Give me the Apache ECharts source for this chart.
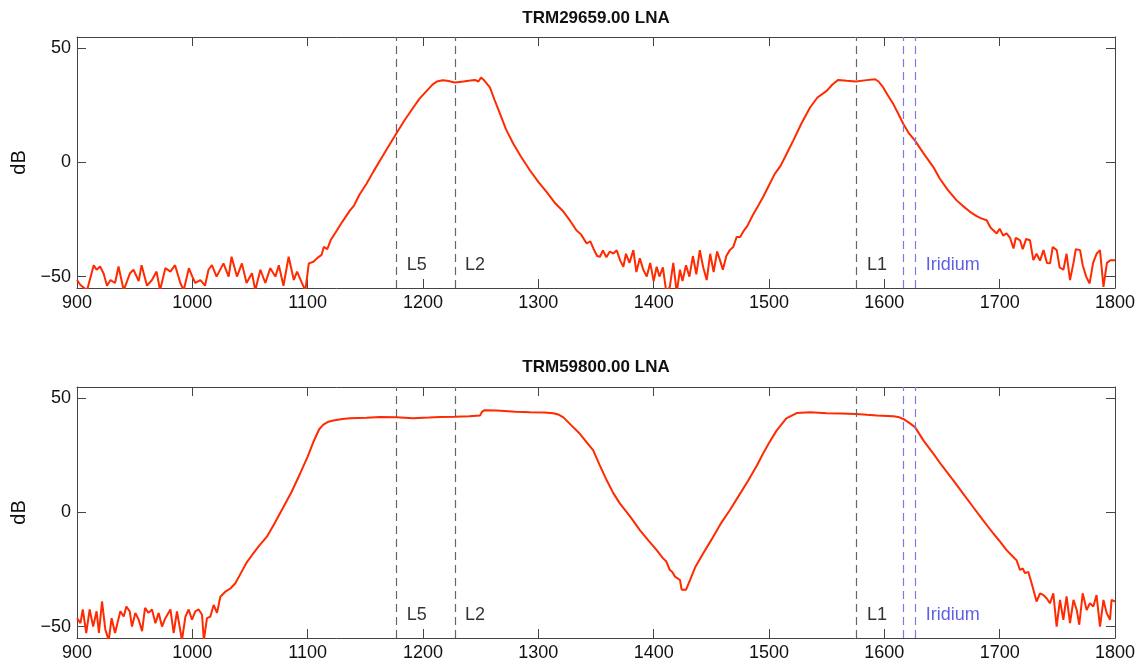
<!DOCTYPE html>
<html>
<head>
<meta charset="utf-8">
<script src="https://cdn.jsdelivr.net/npm/echarts@6/dist/echarts.min.js"></script>
<style>
  html, body { margin: 0; padding: 0; background: #fff; }
  #main { width: 1147px; height: 666px; }
</style>
</head>
<body>
<div id="main"></div>
<script>
// frequency (MHz), gain (dB)
var topTrace = [
  [900,-51.5],[903,-53.7],[908.7,-56],[914.5,-45],[917,-47],[920,-45.6],[923,-48.5],[926,-54],[929,-51.5],
  [933,-52.8],[936,-45.6],[940.5,-56],[946,-48.5],[949,-47],[953.5,-52],[956,-45],[960.7,-54],[965,-51.5],
  [969,-47.8],[972,-56],[976.6,-46.3],[981,-47.8],[985,-45],[989.6,-52.8],[992.5,-56],[997,-46.3],[1000,-50],
  [1002.6,-52.8],[1007,-51.5],[1011,-54],[1014,-47],[1017,-45],[1021,-50],[1027,-44.2],[1031.5,-50],[1034,-41.3],
  [1038.7,-50],[1043,-44.2],[1047,-52.8],[1051.7,-48.5],[1054.6,-56],[1059,-47],[1063.3,-52.8],[1067.6,-46.3],
  [1072,-50],[1075,-45],[1079,-54],[1083.5,-41.3],[1088,-51.5],[1090.8,-47.8],[1095,-52.8],[1098,-56],
  [1101,-44.2],[1105,-43.5],[1108,-42],[1112,-40.5],[1114,-37],[1117,-38],[1120,-34],[1125,-30],[1130,-26],
  [1136.7,-21],[1140,-19],[1145,-14],[1151,-9.3],[1157,-4],[1162.7,0.9],[1170,7],[1176.6,12.5],[1184,18.5],
  [1191.6,24.1],[1197,28],[1203.2,31.4],[1208,34],[1212,35.5],[1217,36],[1221,35.8],[1227.7,35.1],[1235,35.5],
  [1241,35.9],[1245,36.2],[1248,35.5],[1250.3,37.2],[1253,36],[1258,32.9],[1262,27.5],[1266.8,21.3],[1272,14.5],
  [1278.3,8.2],[1285,2.5],[1292.8,-3.5],[1300,-8.5],[1307.3,-13],[1314,-17.5],[1321.7,-21.5],[1327.5,-25.5],
  [1333,-29.7],[1337,-31.5],[1340,-34],[1342,-35.5],[1345,-34.5],[1348,-38],[1351,-41],[1353.5,-41.3],[1356,-38.5],
  [1359,-41.5],[1362,-39],[1365,-39.9],[1368,-38.5],[1371,-43],[1373.7,-45.7],[1376,-40],[1379,-44],[1382.4,-38.4],
  [1385,-48],[1388,-42],[1391,-47],[1394,-50],[1397,-44],[1400,-52],[1402.6,-45.7],[1405,-50],[1408,-46],
  [1411,-57],[1414,-54.5],[1417,-44],[1420,-57],[1422.8,-47],[1425,-52],[1428,-45],[1431,-50],[1434,-41],
  [1437,-49],[1440,-38.4],[1443,-46],[1446,-51.5],[1449,-40],[1452,-48],[1455,-39],[1457.5,-42.8],[1460,-47],
  [1463,-41],[1466,-38.4],[1469,-37],[1472,-32.6],[1475,-32.6],[1478,-30],[1481,-28],[1486,-23],[1490,-19.5],
  [1495,-15],[1500,-10],[1505,-5],[1510,-1.5],[1515,3.5],[1521,9.6],[1528,17],[1535.6,24.1],[1542,28.5],
  [1550,31.4],[1555,34.2],[1560,36.2],[1567.4,35.8],[1575.4,35.5],[1584.7,36.1],[1592,36.5],[1595,35.5],
  [1599,32.9],[1603,29.5],[1607.8,25.6],[1612,21.5],[1616.5,16.9],[1621,13],[1626.6,9.6],[1634,4],[1642.5,-2],
  [1648,-7],[1655,-12],[1662.7,-16.6],[1668,-19],[1674,-21.5],[1680,-23.5],[1684,-24.5],[1688.7,-25.3],
  [1692,-28.5],[1694.5,-29.7],[1697.4,-31.1],[1700,-29],[1703,-32],[1706,-31.1],[1709,-33],[1712,-37.7],
  [1714,-33],[1717.7,-34.1],[1720,-38],[1723,-33.5],[1726.3,-34.1],[1729.2,-42.8],[1732,-40],[1735,-43],
  [1738,-38.4],[1741,-44],[1743.7,-44.2],[1746,-37],[1749.5,-38.4],[1752,-46],[1755.3,-47],[1758,-40],
  [1761,-51.5],[1764,-44],[1766,-38],[1769.7,-38.4],[1772,-45],[1775,-50],[1778,-53],[1781,-44],[1784,-40],
  [1787,-38.4],[1790,-54.5],[1793,-44],[1796,-42.8],[1800,-42.8]
];

var bottomTrace = [
  [900,-46.3],[903,-48.5],[905,-42.5],[908,-52.8],[911,-42.5],[914,-50],[917,-43.3],[919,-52.8],[921.7,-39],
  [924.6,-51.4],[927.5,-56],[930,-46.3],[933,-52.8],[937.6,-43.3],[940.5,-45.6],[942.8,-41.2],[945.7,-43.3],
  [947.7,-50],[950.6,-44],[953.5,-47],[956.4,-52],[959,-41.8],[962,-44],[965,-42.5],[968,-48.5],[970.8,-44],
  [973.7,-50],[976.6,-46.3],[981,-42.5],[983.8,-52.8],[986.7,-43.3],[991,-56],[994,-45.6],[996.8,-42.5],
  [999.7,-47],[1002.6,-43.3],[1005.5,-42.5],[1008.4,-44.8],[1010,-56],[1012.7,-46.3],[1015.6,-45.6],
  [1018.5,-40.5],[1021.4,-44],[1024.3,-36.9],[1028.6,-34.7],[1033,-33.3],[1037.3,-31],[1041.6,-27],[1047,-22],
  [1052,-18.5],[1058,-14.5],[1064.5,-10.7],[1071,-5],[1079,2.4],[1086,9],[1093.4,17],[1100,24.5],[1105,31],
  [1110,36.5],[1113.6,38.5],[1118,39.8],[1122.3,40.3],[1130,41],[1136.7,41.3],[1151,41.5],[1162.7,41.8],
  [1177,41.7],[1191.6,41.3],[1205,41.6],[1215,41.9],[1227.7,42],[1240,42.2],[1249.4,42.5],[1251,44],[1253,44.8],
  [1264,44.7],[1280,44.2],[1292.8,43.9],[1305,43.8],[1313,43.5],[1318,42.8],[1321.7,41.7],[1328,38.5],
  [1336,34.5],[1347.6,27.2],[1353,21],[1359.3,14.1],[1365,8.5],[1370.8,3.9],[1380,-2],[1388,-7.7],[1395,-12],
  [1402.6,-16.5],[1408,-20],[1411,-21.5],[1414,-25.2],[1416,-26],[1418.5,-28.1],[1420,-28],[1422.8,-29.6],
  [1424.3,-33.9],[1428,-33.9],[1431.5,-29.6],[1436,-24],[1443,-17.9],[1450,-12],[1458,-5],[1466,1],[1474,7.5],
  [1482,14],[1489.4,20.5],[1495,26],[1500,30.5],[1506.7,36],[1515,41.2],[1524,43.6],[1535.6,43.9],[1550,43.5],
  [1562,43.4],[1575.4,43.2],[1585,42.8],[1593.4,42.5],[1607.8,42.2],[1612,41.9],[1616.5,41],[1621,39.5],
  [1626.6,37.4],[1634,31.5],[1642.5,25.8],[1650,20.5],[1659.8,14.1],[1668,8.5],[1677,2.4],[1685,-3],
  [1694.5,-9.2],[1700,-12.5],[1706,-16.5],[1711.8,-19.5],[1714.7,-21],[1717.6,-25.2],[1720,-24.5],[1722,-26.6],
  [1724.8,-26],[1727.7,-31],[1732,-39],[1735,-35.4],[1738,-36.2],[1740.7,-37.6],[1743.6,-39.8],[1746.5,-35.4],
  [1749.4,-50],[1752.3,-38.3],[1755.2,-47],[1758,-36.8],[1761,-48.5],[1764,-38.3],[1766.8,-42.7],[1769,-49.2],
  [1772,-35.4],[1775.4,-42.7],[1778.3,-39.8],[1781.2,-41.2],[1784,-36.2],[1787,-50],[1790,-38.3],[1792.8,-44.1],
  [1795.7,-47],[1797,-38.3],[1800,-39]
];

var titles = ['TRM29659.00 LNA', 'TRM59800.00 LNA'];
var gpsFreqs = [1176.45, 1227.6, 1575.42];
var iridiumFreqs = [1616, 1626.5];
var bandNames = ['L5', 'L2', 'L1', 'Iridium'];
var bandLabelFreqs = [1186, 1236.5, 1585, 1636];
var bandLabelLevel = -45;
var yTicks = [-50, 0, 50];

var FONT = '"Liberation Sans", Arial, Helvetica, sans-serif';
var AXIS_COLOR = '#444';
var RED = '#ff2a00';

var myChart = echarts.init(document.getElementById('main'));

function xAxisFor(grid, pos) {
  return {
    gridIndex: grid, type: 'value', position: pos,
    min: 900, max: 1800, interval: 100,
    axisLine: { show: true, onZero: false, lineStyle: { color: AXIS_COLOR, width: 1 } },
    axisTick: { show: true, inside: true, length: 9, lineStyle: { color: AXIS_COLOR } },
    axisLabel: {
      show: pos === 'bottom', fontSize: 18, color: '#111', fontFamily: FONT, margin: 6,
      formatter: function (v) { return String(v); }
    },
    splitLine: { show: false }
  };
}

function yAxisFor(grid, pos) {
  return {
    gridIndex: grid, type: 'value', position: pos,
    min: -55, max: 55,
    name: pos === 'left' ? 'dB' : '',
    nameLocation: 'middle', nameGap: 33,
    nameTextStyle: { fontSize: 20, color: '#111', fontFamily: FONT },
    axisLine: { show: true, onZero: false, lineStyle: { color: AXIS_COLOR, width: 1 } },
    axisTick: { show: true, inside: true, length: 9, customValues: yTicks, lineStyle: { color: AXIS_COLOR } },
    axisLabel: {
      show: pos === 'left', customValues: yTicks, fontSize: 18, color: '#111', fontFamily: FONT, margin: 6,
      formatter: function (v) { return String(v).replace('-', '\u2212'); }
    },
    splitLine: { show: false }
  };
}

function bandLines() {
  var dash = [8, 5];
  var d = gpsFreqs.map(function (f) {
    return { xAxis: f, lineStyle: { color: '#666', type: dash, width: 1.2 } };
  });
  iridiumFreqs.forEach(function (f) {
    d.push({ xAxis: f, lineStyle: { color: '#7b7be6', type: dash, width: 1.2 } });
  });
  return { silent: true, symbol: ['none', 'none'], label: { show: false }, data: d };
}

function bandLabels(grid) {
  return {
    type: 'scatter', xAxisIndex: grid * 2, yAxisIndex: grid * 2,
    symbolSize: 0, silent: true, z: 5,
    data: bandNames.map(function (n, i) {
      return {
        name: n, value: [bandLabelFreqs[i], bandLabelLevel],
        label: { color: n === 'Iridium' ? '#3535e0' : '#000' }
      };
    }),
    label: {
      show: true, position: 'right', distance: 0,
      fontSize: 18, fontFamily: FONT, color: '#000',
      formatter: function (p) { return p.name; }
    }
  };
}

function titleText(i, y) {
  return {
    type: 'text', x: 596, y: y,
    style: {
      text: titles[i], fill: '#111', fontSize: 17, fontWeight: 'bold', fontFamily: FONT,
      align: 'center', verticalAlign: 'middle', textAlign: 'center', textVerticalAlign: 'middle'
    }
  };
}

var option = {
  animation: false,
  backgroundColor: '#fff',
  grid: [
    { left: 77, right: 32, top: 37, height: 251 },
    { left: 77, right: 32, top: 387, height: 251 }
  ],
  xAxis: [xAxisFor(0, 'bottom'), xAxisFor(0, 'top'), xAxisFor(1, 'bottom'), xAxisFor(1, 'top')],
  yAxis: [yAxisFor(0, 'left'), yAxisFor(0, 'right'), yAxisFor(1, 'left'), yAxisFor(1, 'right')],
  graphic: [titleText(0, 18), titleText(1, 367)],
  series: [
    {
      type: 'line', xAxisIndex: 0, yAxisIndex: 0, data: topTrace,
      showSymbol: false, clip: true, z: 3,
      lineStyle: { color: RED, width: 2 },
      markLine: bandLines()
    },
    {
      type: 'line', xAxisIndex: 2, yAxisIndex: 2, data: bottomTrace,
      showSymbol: false, clip: true, z: 3,
      lineStyle: { color: RED, width: 2 },
      markLine: bandLines()
    },
    bandLabels(0),
    bandLabels(1)
  ]
};
myChart.setOption(option);
</script>
</body>
</html>
